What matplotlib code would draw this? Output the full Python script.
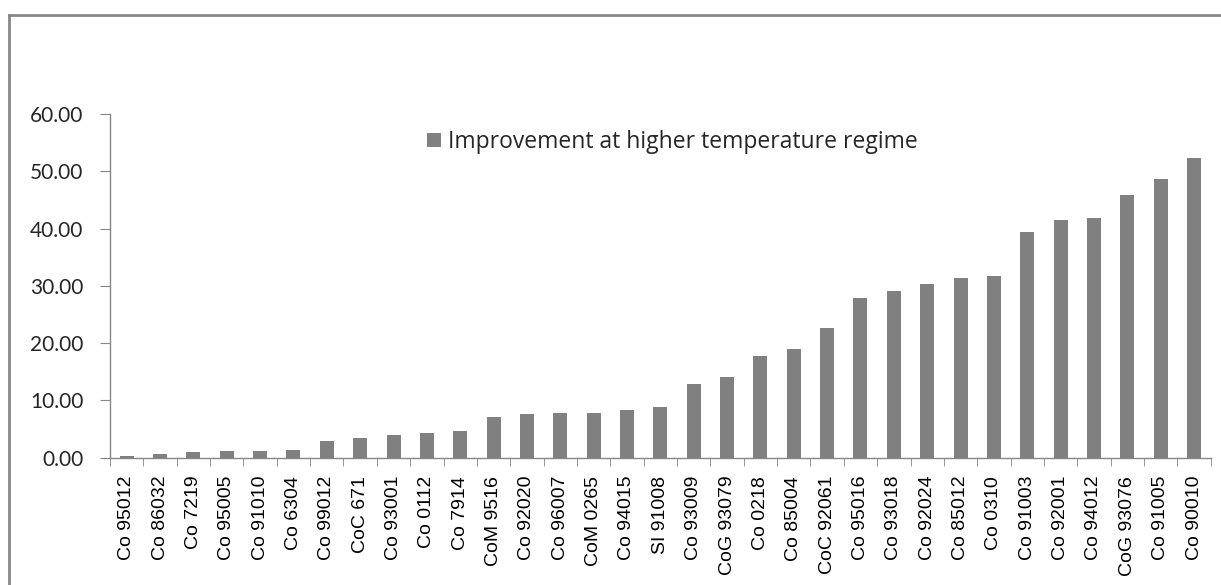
import numpy as np
import matplotlib.pyplot as plt
from matplotlib.lines import Line2D

# varieties, sorted by improvement
varieties = ['Co 95012', 'Co 86032', 'Co 7219', 'Co 95005', 'Co 91010', 'Co 6304',
             'Co 99012', 'CoC 671', 'Co 93001', 'Co 0112', 'Co 7914', 'CoM 9516',
             'Co 92020', 'Co 96007', 'CoM 0265', 'Co 94015', 'SI 91008', 'Co 93009',
             'CoG 93079', 'Co 0218', 'Co 85004', 'CoC 92061', 'Co 95016', 'Co 93018',
             'Co 92024', 'Co 85012', 'Co 0310', 'Co 91003', 'Co 92001', 'Co 94012',
             'CoG 93076', 'Co 91005', 'Co 90010']
improvement = [0.35, 0.65, 1.05, 1.20, 1.20, 1.40,
               2.97, 3.43, 4.00, 4.36, 4.70, 7.10,
               7.62, 7.74, 7.74, 8.38, 8.85, 12.80,
               14.08, 17.80, 18.90, 22.69, 27.92, 29.09,
               30.37, 31.30, 31.76, 39.33, 41.54, 41.78,
               45.90, 48.70, 52.36]
yticks = [0, 10, 20, 30, 40, 50, 60]

W, H = 1221, 585
fig = plt.figure(figsize=(W / 100, H / 100), dpi=100)
ax = fig.add_axes([110 / W, 1 - 457.7 / H, (1210.7 - 110) / W, (457.7 - 114) / H])

x = np.arange(len(varieties))
ax.bar(x, improvement, width=0.42, color='#808080',
       label='Improvement at higher temperature regime')

ax.set_xlim(-0.5, len(varieties) - 0.5)
ax.set_ylim(0, 60)

for s in ['top', 'right']:
    ax.spines[s].set_visible(False)
for s in ['left', 'bottom']:
    ax.spines[s].set_color('#868686')
    ax.spines[s].set_linewidth(1.0)

ax.set_yticks(yticks)
ax.set_yticklabels([f'{v:.2f}' for v in yticks], fontfamily='Lato', fontsize=15,
                   color='#262626')
ax.tick_params(axis='y', direction='out', length=7.2, color='#868686', pad=12)

ax.set_xticks(x)
ax.set_xticklabels(varieties, rotation=90, fontfamily='Liberation Sans', fontsize=14,
                   color='black', va='top')
ax.tick_params(axis='x', which='major', length=0, pad=13)
ax.set_xticks(np.arange(len(varieties) + 1) - 0.5, minor=True)
ax.tick_params(axis='x', which='minor', direction='out', length=6, color='#868686')

leg = ax.legend(loc='upper left', bbox_to_anchor=(427 / W, 1 - 130 / H),
                bbox_transform=fig.transFigure, frameon=False,
                prop={'family': 'Open Sans', 'size': 16.5}, handlelength=0.62,
                handleheight=0.62, handletextpad=0.3, borderpad=0, borderaxespad=0)
for t in leg.get_texts():
    t.set_color('#262626')

# outer chart border (only top and left visible in the crop)
fig.add_artist(Line2D([8.5 / W, 1.0], [1 - 15 / H, 1 - 15 / H], transform=fig.transFigure,
                      color='#878787', linewidth=2))
fig.add_artist(Line2D([8.5 / W, 8.5 / W], [0, 1 - 15 / H], transform=fig.transFigure,
                      color='#878787', linewidth=2))

fig.savefig('out.png', dpi=100)
